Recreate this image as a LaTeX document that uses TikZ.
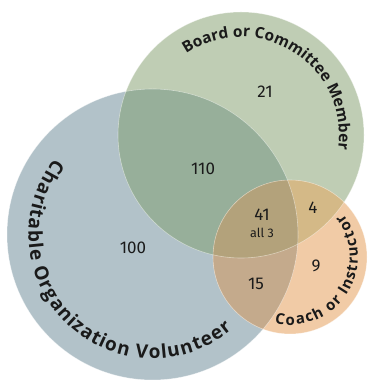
\documentclass[tikz,border=0pt]{standalone}
\usepackage{fontspec}
\setmainfont{Fira Sans}
\newfontfamily\lblfont{Open Sans}
\usetikzlibrary{decorations.text}
\definecolor{cblue}{HTML}{B2C2C9}
\definecolor{cgreen}{HTML}{BFCDB4}
\definecolor{corange}{HTML}{F1CBA6}
\definecolor{cbg}{HTML}{97AF9A}
\definecolor{cgo}{HTML}{D4B987}
\definecolor{cbo}{HTML}{C4AA8C}
\definecolor{call}{HTML}{B3A27B}
\definecolor{ink}{HTML}{1A1A1A}
\tikzset{
  num/.style={text=ink,font=\fontsize{17}{17}\selectfont,inner sep=0pt},
  small/.style={text=ink,font=\fontsize{12.5}{12.5}\selectfont,inner sep=0pt},
  edge/.style={draw=white,draw opacity=0.45,line width=0.6pt}
}
\def\blueC{(152.5,147.5) circle[radius=145.5]}
\def\greenC{(241,247) circle[radius=123]}
\def\orangeC{(290,125) circle[radius=77]}
\begin{document}
\begin{tikzpicture}[x=1pt,y=1pt]
\useasboundingbox (0,0) rectangle (368,382);
\fill[cblue] \blueC;
\fill[cgreen] \greenC;
\fill[corange] \orangeC;
\begin{scope}\clip \blueC; \fill[cbg] \greenC; \end{scope}
\begin{scope}\clip \blueC; \fill[cbo] \orangeC; \end{scope}
\begin{scope}\clip \greenC; \fill[cgo] \orangeC; \end{scope}
\begin{scope}\clip \blueC; \clip \greenC; \fill[call] \orangeC; \end{scope}
\path[edge] \blueC; \path[edge] \greenC; \path[edge] \orangeC;
% labels
\path[decorate,decoration={text effects along path,text={Board or Committee Member},
  text effects/.cd, text along path, fit text to path,
  characters={text=ink,font=\lblfont\bfseries\fontsize{15.5}{15.5}\selectfont},
  character widths={font=\lblfont\bfseries\fontsize{15.5}{15.5}\selectfont}}]
  ([shift={(241,247)}]124:98) arc[start angle=124,end angle=-8.5,radius=98];
\path[decorate,decoration={text effects along path,text={Charitable Organization Volunteer},
  text effects/.cd, text along path, fit text to path,
  characters={text=ink,font=\lblfont\bfseries\fontsize{19}{19}\selectfont},
  character widths={font=\lblfont\bfseries\fontsize{19}{19}\selectfont}}]
  ([shift={(152.5,147.5)}]142:124) arc[start angle=142,end angle=310,radius=124];
\path[decorate,decoration={text effects along path,text={Coach or Instructor},
  text effects/.cd, text along path, fit text to path,
  characters={text=ink,font=\lblfont\bfseries\fontsize{15}{15}\selectfont},
  character widths={font=\lblfont\bfseries\fontsize{15}{15}\selectfont}}]
  ([shift={(290,125)}]257:68) arc[start angle=257,end angle=399,radius=68];
% numbers
\node[num] (n21) at (265,290) {21};
\node[num] (n110) at (203,213) {110};
\node[num] (n100) at (133,134) {100};
\node[num] (n41) at (262,167) {41};
\node[small] (nall) at (262,149) {all 3};
\node[num] (n4) at (313,174) {4};
\node[num] (n9) at (316,116) {9};
\node[num] (n15) at (256,98) {15};
\end{tikzpicture}
\end{document}
